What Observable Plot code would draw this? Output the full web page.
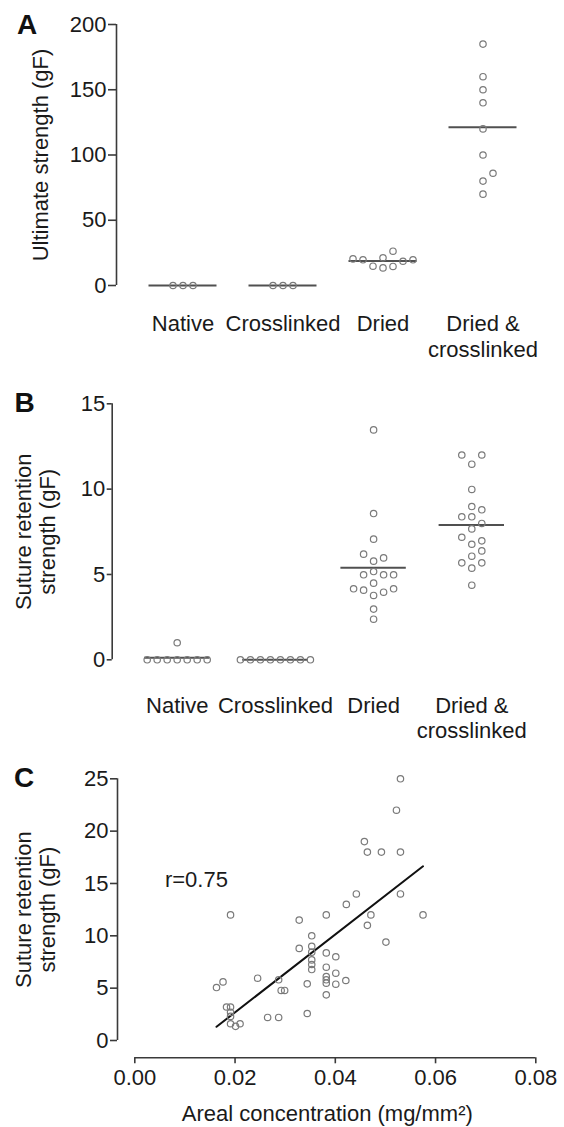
<!DOCTYPE html>
<html><head><meta charset="utf-8">
<script src="https://cdn.jsdelivr.net/npm/d3@7"></script>
<script src="https://cdn.jsdelivr.net/npm/@observablehq/plot@0.6"></script>
<style>
body{margin:0;background:#fff;}
#wrap{position:relative;width:564px;height:1127px;font-family:"Liberation Sans",Arial,sans-serif;overflow:hidden;}
.panel{position:absolute;left:0;}
.panel svg{background:transparent !important;}
.tag{position:absolute;font-weight:bold;font-size:28px;line-height:28px;color:#111;}
</style></head><body><div id="wrap"></div>
<script>
// ---- data ----
const groups = ["Native", "Crosslinked", "Dried", "Dried & crosslinked"];
const groupLabels = ["Native", "Crosslinked", "Dried", "Dried &\ncrosslinked"];

// Panel A: ultimate strength (gF)
const ultNative = [0, 0, 0];
const ultCrosslinked = [0, 0, 0];
const ultDried = [13.5, 14.6, 14.8, 18.6, 19.7, 19.7, 20.4, 21.2, 26.3];
const ultDriedXl = [70, 80, 86, 100, 120, 140, 150, 160, 185];
const yTicksA = [0, 50, 100, 150, 200];

// Panel B: suture retention strength (gF)
const sutNative = [0, 0, 0, 0, 0, 0, 0, 1.0];
const sutCrosslinked = [0, 0, 0, 0, 0, 0, 0, 0];
const sutDried = [2.38, 2.97, 3.77, 3.96, 4.08, 4.16, 4.16, 4.49, 4.98, 4.98, 4.98, 5.17, 5.78, 5.97, 6.19, 7.07, 8.57, 13.47];
const sutDriedXl = [4.37, 5.37, 5.68, 5.68, 6.07, 6.38, 6.77, 6.97, 7.18, 7.67, 7.99, 8.38, 8.38, 8.79, 8.98, 9.98, 11.46, 12.0, 12.0];
const yTicksB = [0, 5, 10, 15];

// Panel C: areal concentration (mg/mm2) vs suture retention strength (gF)
const arealConc = [0.0163, 0.0176, 0.0183, 0.0191, 0.0191, 0.0191, 0.0191, 0.0201, 0.0210, 0.0191,
  0.0245, 0.0265, 0.0287, 0.0287, 0.0292, 0.0299, 0.0328, 0.0328, 0.0344, 0.0344,
  0.0353, 0.0353, 0.0353, 0.0353, 0.0353, 0.0353, 0.0382, 0.0382, 0.0382, 0.0382,
  0.0382, 0.0382, 0.0382, 0.0401, 0.0401, 0.0401, 0.0421, 0.0422, 0.0442, 0.0458,
  0.0464, 0.0464, 0.0471, 0.0492, 0.0501, 0.0522, 0.0530, 0.0530, 0.0530, 0.0575];
const sutureC = [5.06, 5.6, 3.2, 3.2, 2.7, 2.3, 1.6, 1.35, 1.6, 12.0,
  5.95, 2.2, 2.2, 5.8, 4.78, 4.78, 11.5, 8.8, 5.41, 2.58,
  10.0, 9.0, 8.44, 7.7, 7.26, 6.78, 12.0, 8.37, 7.0, 6.11,
  5.8, 5.48, 4.36, 8.0, 6.43, 5.38, 5.73, 13.0, 14.0, 19.0,
  18.0, 11.0, 12.0, 18.0, 9.4, 22.0, 25.0, 18.0, 14.0, 12.0];
const yTicksC = [0, 5, 10, 15, 20, 25];
const xTicksC = [0, 0.02, 0.04, 0.06, 0.08];
const annotationC = [{x: 0.006, y: 15.3, text: "r=0.75"}];

// ---- style ----
const W = 564;
const AX = "#3a3a3a";
const TXT = "#1a1a1a";
const DOT = "#7a7a7a";
const FONT = "Liberation Sans, Arial, sans-serif";

// column scatter layout (dodge computed from values, in pixel space)
function swarm(values, gi, pxPerUnit, step) {
  const S = 10, D = 9.5;
  const sorted = values.slice().sort((a, b) => a - b);
  const placed = [];
  sorted.forEach(v => {
    const py = v * pxPerUnit;
    let off = 0;
    for (let k = 0; k < 60; k++) {
      const m = Math.ceil(k / 2);
      const cand = k === 0 ? 0 : (k % 2 ? m * S : -m * S);
      if (placed.every(p => Math.hypot(p.x - cand, p.y - py) >= D)) { off = cand; break; }
    }
    placed.push({x: off, y: py, v});
  });
  // center isolated rows of tied values
  const ties = d3.group(placed, p => p.v);
  for (const [v, row] of ties) {
    if (row.length < 2) continue;
    const isolated = placed.every(p => p.v === v || Math.abs(p.y - row[0].y) >= D);
    if (isolated) {
      const shift = d3.mean(row, p => p.x);
      row.forEach(p => { p.x -= shift; });
    }
  }
  return placed.map(p => ({group: groups[gi], gi, value: p.v, xpos: gi + p.x / step}));
}

function dotPanel(cfg) {
  const {series, yDomain, yTicks, yLabel, height, mt, mb, ml, firstCenter, step, halfWidth, labelPad, labelDx, tickSize} = cfg;
  const xDomain = [(ml - firstCenter) / step, (W - firstCenter) / step];
  const pxPerUnit = (height - mt - mb) / (yDomain[1] - yDomain[0]);
  const pts = series.flatMap((vals, gi) => swarm(vals, gi, pxPerUnit, step));
  const means = series.map((vals, gi) => ({gi, mean: d3.mean(vals)}));
  return Plot.plot({
    width: W, height, marginTop: mt, marginBottom: mb, marginLeft: ml, marginRight: 0,
    x: {domain: xDomain, label: null},
    y: {domain: yDomain, label: null},
    style: {fontSize: "22px", fontFamily: FONT, color: TXT, background: "transparent", overflow: "visible"},
    marks: [
      Plot.ruleX([xDomain[0]], {y1: yDomain[0], y2: yDomain[1], stroke: AX, strokeWidth: 1.6}),
      Plot.axisY({ticks: yTicks, tickSize, tickPadding: 2, stroke: AX, strokeWidth: 1.6, fill: TXT, label: null}),
      Plot.axisX({ticks: d3.range(groups.length), tickFormat: i => groupLabels[i], tickSize: 0, tickPadding: labelPad, fill: TXT, lineHeight: 1.15, label: null}),
      Plot.ruleY(means, {y: "mean", x1: d => d.gi - halfWidth / step, x2: d => d.gi + halfWidth / step, stroke: "#505050", strokeWidth: 2}),
      Plot.dot(pts, {x: "xpos", y: "value", r: 3.2, stroke: DOT, strokeWidth: 1.2, fill: "none"}),
      Plot.text([yLabel], {text: d => d, frameAnchor: "left", textAnchor: "middle", lineAnchor: "middle", rotate: -90, dx: labelDx, fontSize: 22, lineHeight: 1.07, fill: TXT})
    ]
  });
}

const wrap = document.getElementById("wrap");
function place(node, top) {
  const d = document.createElement("div");
  d.className = "panel";
  d.style.top = top + "px";
  d.appendChild(node);
  wrap.appendChild(d);
}
function tag(letter, left, top) {
  const d = document.createElement("div");
  d.className = "tag";
  d.style.left = left + "px";
  d.style.top = top + "px";
  d.textContent = letter;
  wrap.appendChild(d);
}

// Panel A
place(dotPanel({
  series: [ultNative, ultCrosslinked, ultDried, ultDriedXl],
  yDomain: [0, 200], yTicks: yTicksA, yLabel: "Ultimate strength (gF)",
  height: 365, mt: 24, mb: 80, ml: 116, firstCenter: 182.5, step: 100,
  halfWidth: 34, labelPad: 28, labelDx: -76, tickSize: 8
}), 0);

// Panel B
place(dotPanel({
  series: [sutNative, sutCrosslinked, sutDried, sutDriedXl],
  yDomain: [0, 15], yTicks: yTicksB, yLabel: "Suture retention\nstrength (gF)",
  height: 380, mt: 43.3, mb: 80.7, ml: 111.7, firstCenter: 176.7, step: 98.2,
  halfWidth: 32.7, labelPad: 35, labelDx: -77, tickSize: 5
}), 360);

// Panel C
const dataC = arealConc.map((x, i) => ({x, y: sutureC[i]}));
const off = 17.3;
place(Plot.plot({
  width: W, height: 387, marginTop: 38.3, marginBottom: 87, marginLeft: 134.3, marginRight: 28.7,
  x: {domain: [0, 0.08], label: null},
  y: {domain: [0, 25], label: null},
  style: {fontSize: "22px", fontFamily: FONT, color: TXT, background: "transparent", overflow: "visible"},
  marks: [
    Plot.ruleX([0], {y1: 0, y2: 25, dx: -off, stroke: AX, strokeWidth: 1.6}),
    Plot.ruleY([0], {x1: 0, x2: 0.08, dy: off, stroke: AX, strokeWidth: 1.6}),
    Plot.axisY({ticks: yTicksC, dx: -off, tickSize: 7, tickPadding: 2, stroke: AX, strokeWidth: 1.6, fill: TXT, label: null}),
    Plot.axisX({ticks: xTicksC, tickFormat: d3.format(".2f"), dy: off, tickSize: 6, tickPadding: 6, stroke: AX, strokeWidth: 1.6, fill: TXT, label: null}),
    Plot.linearRegressionY(dataC, {x: "x", y: "y", ci: 0, stroke: "#111", strokeWidth: 2}),
    Plot.dot(dataC, {x: "x", y: "y", r: 3.2, stroke: DOT, strokeWidth: 1.2, fill: "none"}),
    Plot.text(annotationC, {x: "x", y: "y", text: "text", textAnchor: "start", fontSize: 22, fill: TXT}),
    Plot.text(["Suture retention\nstrength (gF)"], {text: d => d, frameAnchor: "left", textAnchor: "middle", lineAnchor: "middle", rotate: -90, dx: -99.3, fontSize: 22, lineHeight: 1.07, fill: TXT}),
    Plot.text(["Areal concentration (mg/mm²)"], {text: d => d, frameAnchor: "bottom", lineAnchor: "bottom", dx: -8, dy: 80, fontSize: 22, fill: TXT})
  ]
}), 740);

tag("A", 17, 11.3);
tag("B", 14.4, 389.3);
tag("C", 14, 764.3);
</script>
</body></html>
